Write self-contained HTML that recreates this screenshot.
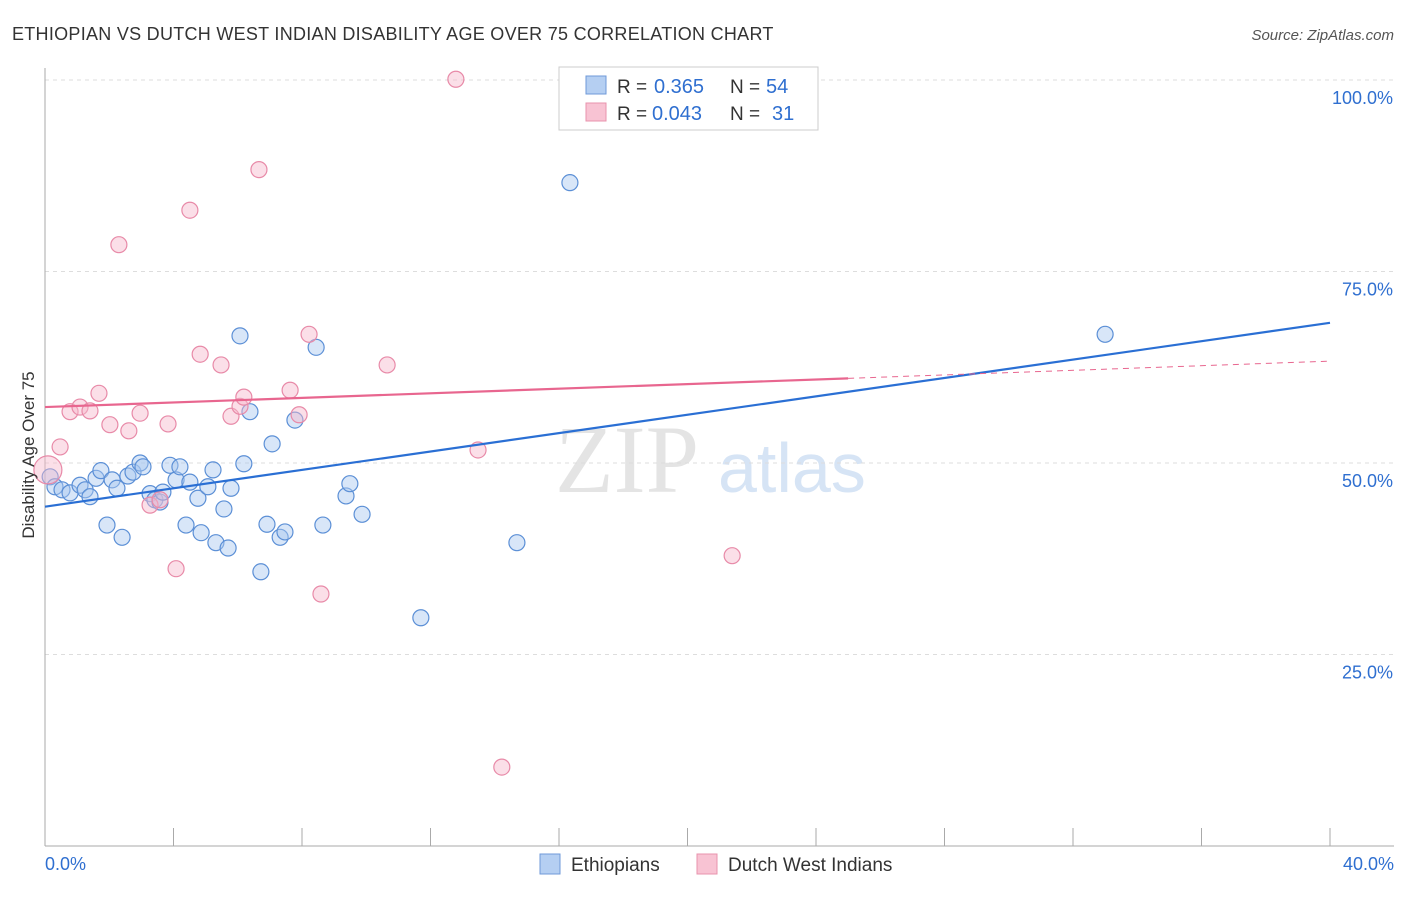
<!DOCTYPE html>
<html><head><meta charset="utf-8"><style>
body{margin:0;background:#fff;font-family:"Liberation Sans",sans-serif}
</style></head><body>
<svg width="1406" height="892" xmlns="http://www.w3.org/2000/svg">
<text x="12" y="40" font-size="18" fill="#333" letter-spacing="0.28">ETHIOPIAN VS DUTCH WEST INDIAN DISABILITY AGE OVER 75 CORRELATION CHART</text>
<text x="1394" y="40" font-size="15" fill="#555" font-style="italic" text-anchor="end">Source: ZipAtlas.com</text>
<text x="555" y="492" font-size="96" fill="#e4e4e4" font-family="Liberation Serif,serif">ZIP</text>
<text x="718" y="492" font-size="70" fill="#d6e4f5">atlas</text>
<g id="grid"></g>
<g id="axes"></g>
<g id="marks"></g>
<text transform="translate(34,455) rotate(-90)" font-size="17" fill="#333" text-anchor="middle">Disability Age Over 75</text>
<g>
<rect x="559" y="67" width="259" height="63" fill="#fff" stroke="#ccc"/>
<rect x="586" y="76" width="20" height="18" fill="#b5cff2" stroke="#6f9ad8"/>
<rect x="586" y="103" width="20" height="18" fill="#f8c3d3" stroke="#e893ad"/>
<text x="617" y="93" font-size="19" fill="#333">R =</text><text x="654" y="93" font-size="20" fill="#2f6fd0">0.365</text>
<text x="730" y="93" font-size="19" fill="#333">N =</text><text x="766" y="93" font-size="20" fill="#2f6fd0">54</text>
<text x="617" y="120" font-size="19" fill="#333">R =</text><text x="652" y="120" font-size="20" fill="#2f6fd0">0.043</text>
<text x="730" y="120" font-size="19" fill="#333">N =</text><text x="772" y="120" font-size="20" fill="#2f6fd0">31</text>
</g>
<g>
<rect x="540" y="854" width="20" height="20" fill="#b5cff2" stroke="#6f9ad8"/>
<text x="571" y="871" font-size="19" fill="#333">Ethiopians</text>
<rect x="697" y="854" width="20" height="20" fill="#f8c3d3" stroke="#e893ad"/>
<text x="728" y="871" font-size="19" fill="#333">Dutch West Indians</text>
</g>
</svg>
<script>
const blueX=[0.16,0.31,0.53,0.78,1.09,1.25,1.40,1.59,1.74,1.93,2.09,2.24,2.40,2.58,2.74,2.96,3.05,3.27,3.42,3.58,3.67,3.89,4.08,4.20,4.39,4.51,4.76,4.86,5.07,5.23,5.32,5.57,5.70,5.79,6.07,6.19,6.38,6.72,6.91,7.07,7.32,7.47,7.78,8.44,8.65,9.37,9.49,9.87,11.70,14.69,16.34,33.00];
const blueY=[48.2,46.9,46.5,46.1,47.1,46.5,45.6,48.0,49.0,41.9,47.8,46.7,40.3,48.3,48.8,50.0,49.5,46.0,45.2,44.9,46.2,49.7,47.8,49.5,41.9,47.5,45.4,40.9,46.9,49.1,39.6,44.0,38.9,46.7,66.6,49.9,56.7,35.8,42.0,52.5,40.3,41.0,55.6,65.1,41.9,45.7,47.3,43.3,29.8,39.6,86.6,66.8];
const pinkX=[0.47,0.78,1.09,1.40,1.68,2.02,2.30,2.61,2.96,3.27,3.58,3.83,4.08,4.51,4.83,5.48,5.79,6.07,6.19,6.66,7.63,7.91,8.22,8.59,10.65,12.79,13.48,14.22,21.39];
const pinkY=[52.1,56.7,57.3,56.8,59.1,55.0,78.5,54.2,56.5,44.5,45.2,55.1,36.2,83.0,64.2,62.8,56.1,57.4,58.6,88.3,59.5,56.3,66.8,32.9,62.8,100.1,51.7,10.3,37.9];
const bigPink=[0.09,49.1];
const blueTrend=[44.3,68.3];
const pinkTrend=[57.3,63.3];
const pinkSolidEnd=25.0;
const yTicks=[25,50,75,100];
const xTickCount=10;
const NS="http://www.w3.org/2000/svg";
const X=v=>45+v*1285/40, Y=v=>846-v*7.66;
function mk(tag,attrs,parent){const e=document.createElementNS(NS,tag);for(const k in attrs)e.setAttribute(k,attrs[k]);parent.appendChild(e);return e;}
const grid=document.getElementById('grid'),axes=document.getElementById('axes'),marks=document.getElementById('marks');
yTicks.forEach(t=>{
 const l=mk('line',{x1:45,x2:1394,y1:Y(t),y2:Y(t),stroke:'#ddd','stroke-dasharray':'4,4'},grid);
 
 
 const tx=mk('text',{x:1393,y:Y(t)+24,'font-size':18,fill:'#2f6fd0','text-anchor':'end'},axes);
 tx.textContent=t.toFixed(1)+'%';
 
 
});
mk('line',{x1:45,x2:45,y1:68,y2:846,stroke:'#aaa'},axes);
mk('line',{x1:45,x2:1394,y1:846,y2:846,stroke:'#aaa'},axes);
for(let i=0;i<=xTickCount;i++){
 const t=mk('line',{x1:X(i*4),x2:X(i*4),y1:828,y2:846,stroke:'#aaa'},axes);
 
 
}
const xl0=mk('text',{x:45,y:870,'font-size':18,fill:'#2f6fd0'},axes);xl0.textContent='0.0%';


const xl1=mk('text',{x:1394,y:870,'font-size':18,fill:'#2f6fd0','text-anchor':'end'},axes);xl1.textContent='40.0%';


function dot(x,y,r,fill,stroke,name){
 const c=mk('circle',{cx:X(x),cy:Y(y),r:r,fill:fill,'fill-opacity':0.45,stroke:stroke,'stroke-width':1.2},marks);
 
 
}
blueX.forEach((x,i)=>dot(x,blueY[i],8,'#a9c7f0','#5b8fd6','ethiopian-point'));
pinkX.forEach((x,i)=>dot(x,pinkY[i],8,'#f6b9cc','#e88aa8','dutch-point'));
dot(bigPink[0],bigPink[1],14,'#f6b9cc','#e88aa8','dutch-point-large');
const bl=mk('line',{x1:X(0),y1:Y(blueTrend[0]),x2:X(40),y2:Y(blueTrend[1]),stroke:'#2a6fd4','stroke-width':2.2},marks);


const py=x=>pinkTrend[0]+(pinkTrend[1]-pinkTrend[0])*x/40;
const pl=mk('line',{x1:X(0),y1:Y(py(0)),x2:X(pinkSolidEnd),y2:Y(py(pinkSolidEnd)),stroke:'#e8668f','stroke-width':2.2},marks);


const pd=mk('line',{x1:X(pinkSolidEnd),y1:Y(py(pinkSolidEnd)),x2:X(40),y2:Y(py(40)),stroke:'#e8668f','stroke-width':1,'stroke-dasharray':'6,5'},marks);


</script>
</body></html>
